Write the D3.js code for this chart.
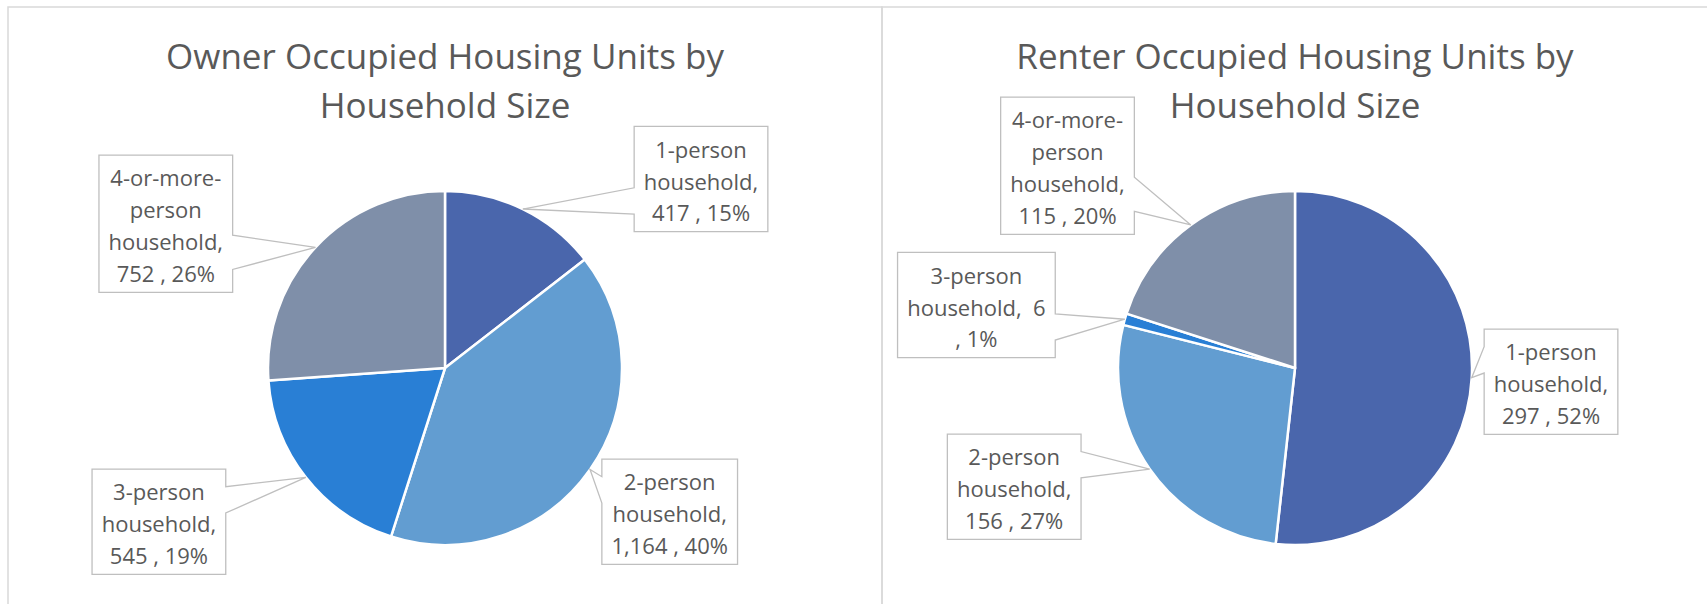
<!DOCTYPE html>
<html>
<head>
<meta charset="utf-8">
<script src="https://cdn.jsdelivr.net/npm/d3@7"></script>
<style>
  body { margin: 0; background: #fff; }
  text { font-family: 'Open Sans', 'Noto Sans', sans-serif; fill: #595959; }
</style>
</head>
<body>
<div id="chart"></div>
<script>
const categories = [
  '1-person household',
  '2-person household',
  '3-person household',
  '4-or-more-person household'
];

const ownerValues = [417, 1164, 545, 752];
const ownerPercents = [15, 40, 19, 26];

const renterValues = [297, 156, 6, 115];
const renterPercents = [52, 27, 1, 20];

const chartTitles = [
  'Owner Occupied Housing Units by Household Size',
  'Renter Occupied Housing Units by Household Size'
];

const sliceColors = ['#4A66AC', '#629DD1', '#297FD5', '#7F8FA9'];

class PieChart {

  constructor(_config, _title, _values, _percents) {
    this.config = {
      parent: _config.parent,
      x: _config.x,
      width: _config.width,
      radius: 177,
      centerY: 368,
      labelOffsets: _config.labelOffsets,
      lineHeight: 31.9,
      wrapWidth: 145
    };
    this.title = _title;
    this.values = _values;
    this.percents = _percents;
    this.initVis();
  }

  initVis() {
    let vis = this;

    // panel frame, it runs past the bottom of the window like in the screenshot
    vis.g = vis.config.parent.append('g')
      .attr('transform', `translate(${vis.config.x},0)`);

    vis.g.append('rect')
      .attr('x', 0)
      .attr('y', 7)
      .attr('width', vis.config.width)
      .attr('height', 700)
      .attr('fill', 'none')
      .attr('stroke', '#d9d9d9')
      .attr('stroke-width', 1.5);

    vis.cx = vis.config.width / 2;

    vis.pie = d3.pie().sort(null).value(d => d.value);
    vis.arc = d3.arc().innerRadius(0).outerRadius(vis.config.radius);
    vis.edgeArc = d3.arc().innerRadius(vis.config.radius).outerRadius(vis.config.radius);
    vis.fmt = d3.format(',');

    vis.updateVis();
  }

  updateVis() {
    let vis = this;

    vis.data = categories.map((c, i) => ({
      name: c,
      value: vis.values[i],
      pct: vis.percents[i],
      color: sliceColors[i]
    }));

    vis.arcs = vis.pie(vis.data);
    vis.renderVis();
  }

  // greedy wrap, allowed to break after spaces and hyphens (like Excel does)
  wrap(text, fontSize, maxWidth) {
    let vis = this;
    const probe = vis.g.append('text')
      .attr('font-size', fontSize)
      .attr('xml:space', 'preserve')
      .style('white-space', 'pre');
    const measure = s => { probe.text(s); return probe.node().getComputedTextLength(); };

    const tokens = text.match(/[^\s-]*-|[^\s-]+|\s+/g);
    const lines = [];
    let cur = '';
    tokens.forEach(tok => {
      if (/^\s+$/.test(tok)) { cur += tok; return; }
      const test = cur + tok;
      if (cur.trim() !== '' && measure(test.trimEnd()) > maxWidth) {
        lines.push(cur.trimEnd());
        cur = tok;
      } else {
        cur = test;
      }
    });
    lines.push(cur.trimEnd());
    const widths = lines.map(measure);
    probe.remove();
    return { lines, widths };
  }

  // Office "wedgeRectCallout" outline
  calloutPath(x, y, w, h, tx, ty) {
    const hc = x + w / 2, vc = y + h / 2;
    const dx = tx - hc, dy = ty - vc;
    const dq = dx * h / w;
    const dz = Math.abs(dy) - Math.abs(dq);
    const x1 = x + w * (dx > 0 ? 7 : 2) / 12, x2 = x + w * (dx > 0 ? 10 : 5) / 12;
    const y1 = y + h * (dy > 0 ? 7 : 2) / 12, y2 = y + h * (dy > 0 ? 10 : 5) / 12;
    const r = x + w, b = y + h;
    const p = d3.path();
    p.moveTo(x, y);
    if (dy < 0 && dz > 0) { p.lineTo(x1, y); p.lineTo(tx, ty); p.lineTo(x2, y); }
    p.lineTo(r, y);
    if (dx > 0 && dz < 0) { p.lineTo(r, y1); p.lineTo(tx, ty); p.lineTo(r, y2); }
    p.lineTo(r, b);
    if (dy > 0 && dz > 0) { p.lineTo(x2, b); p.lineTo(tx, ty); p.lineTo(x1, b); }
    p.lineTo(x, b);
    if (dx < 0 && dz < 0) { p.lineTo(x, y2); p.lineTo(tx, ty); p.lineTo(x, y1); }
    p.closePath();
    return p.toString();
  }

  renderVis() {
    let vis = this;
    const cfg = vis.config;

    // title
    const t = vis.wrap(vis.title, 35, 620);
    vis.g.append('text')
      .attr('text-anchor', 'middle')
      .attr('font-size', 35)
      .selectAll('tspan')
      .data(t.lines)
      .join('tspan')
      .attr('x', vis.cx)
      .attr('y', (d, i) => 68.6 + i * 49)
      .text(d => d);

    const pieG = vis.g.append('g')
      .attr('transform', `translate(${vis.cx},${cfg.centerY})`);

    pieG.selectAll('.slice')
      .data(vis.arcs)
      .join('path')
      .attr('class', 'slice')
      .attr('d', vis.arc)
      .attr('fill', d => d.data.color)
      .attr('stroke', '#fff')
      .attr('stroke-width', 2.5)
      .attr('stroke-linejoin', 'round');

    // data callouts
    vis.arcs.forEach((a, i) => {
      const d = a.data;
      const label = `${d.name},  ${vis.fmt(d.value)} , ${d.pct}%`;
      const wr = vis.wrap(label, 22, cfg.wrapWidth);
      const w = d3.max(wr.widths) + 19.2;
      const h = wr.lines.length * cfg.lineHeight + 9.6;
      const off = cfg.labelOffsets[i];
      const bx = off[0] - w / 2, by = off[1] - h / 2;
      const tip = vis.edgeArc.centroid(a);

      pieG.append('path')
        .attr('d', vis.calloutPath(bx, by, w, h, tip[0], tip[1]))
        .attr('fill', '#fff')
        .attr('stroke', '#bfbfbf')
        .attr('stroke-width', 1.3);

      pieG.append('text')
        .attr('text-anchor', 'middle')
        .attr('font-size', 22)
        .attr('xml:space', 'preserve')
        .style('white-space', 'pre')
        .selectAll('tspan')
        .data(wr.lines)
        .join('tspan')
        .attr('x', off[0])
        .attr('y', (s, j) => off[1] - wr.lines.length * cfg.lineHeight / 2 + j * cfg.lineHeight + 26.5)
        .text(s => s);
    });
  }
}

const svg = d3.select('#chart').append('svg')
  .attr('width', 1707)
  .attr('height', 604);

new PieChart({
  parent: svg, x: 8, width: 874,
  labelOffsets: [[256, -189], [224.7, 143.8], [-286.1, 153.8], [-279.2, -144.3]]
}, chartTitles[0], ownerValues, ownerPercents);

new PieChart({
  parent: svg, x: 882, width: 826,
  labelOffsets: [[256, 13.8], [-280.8, 118.7], [-318.6, -63], [-227.5, -202.3]]
}, chartTitles[1], renterValues, renterPercents);
</script>
</body>
</html>
